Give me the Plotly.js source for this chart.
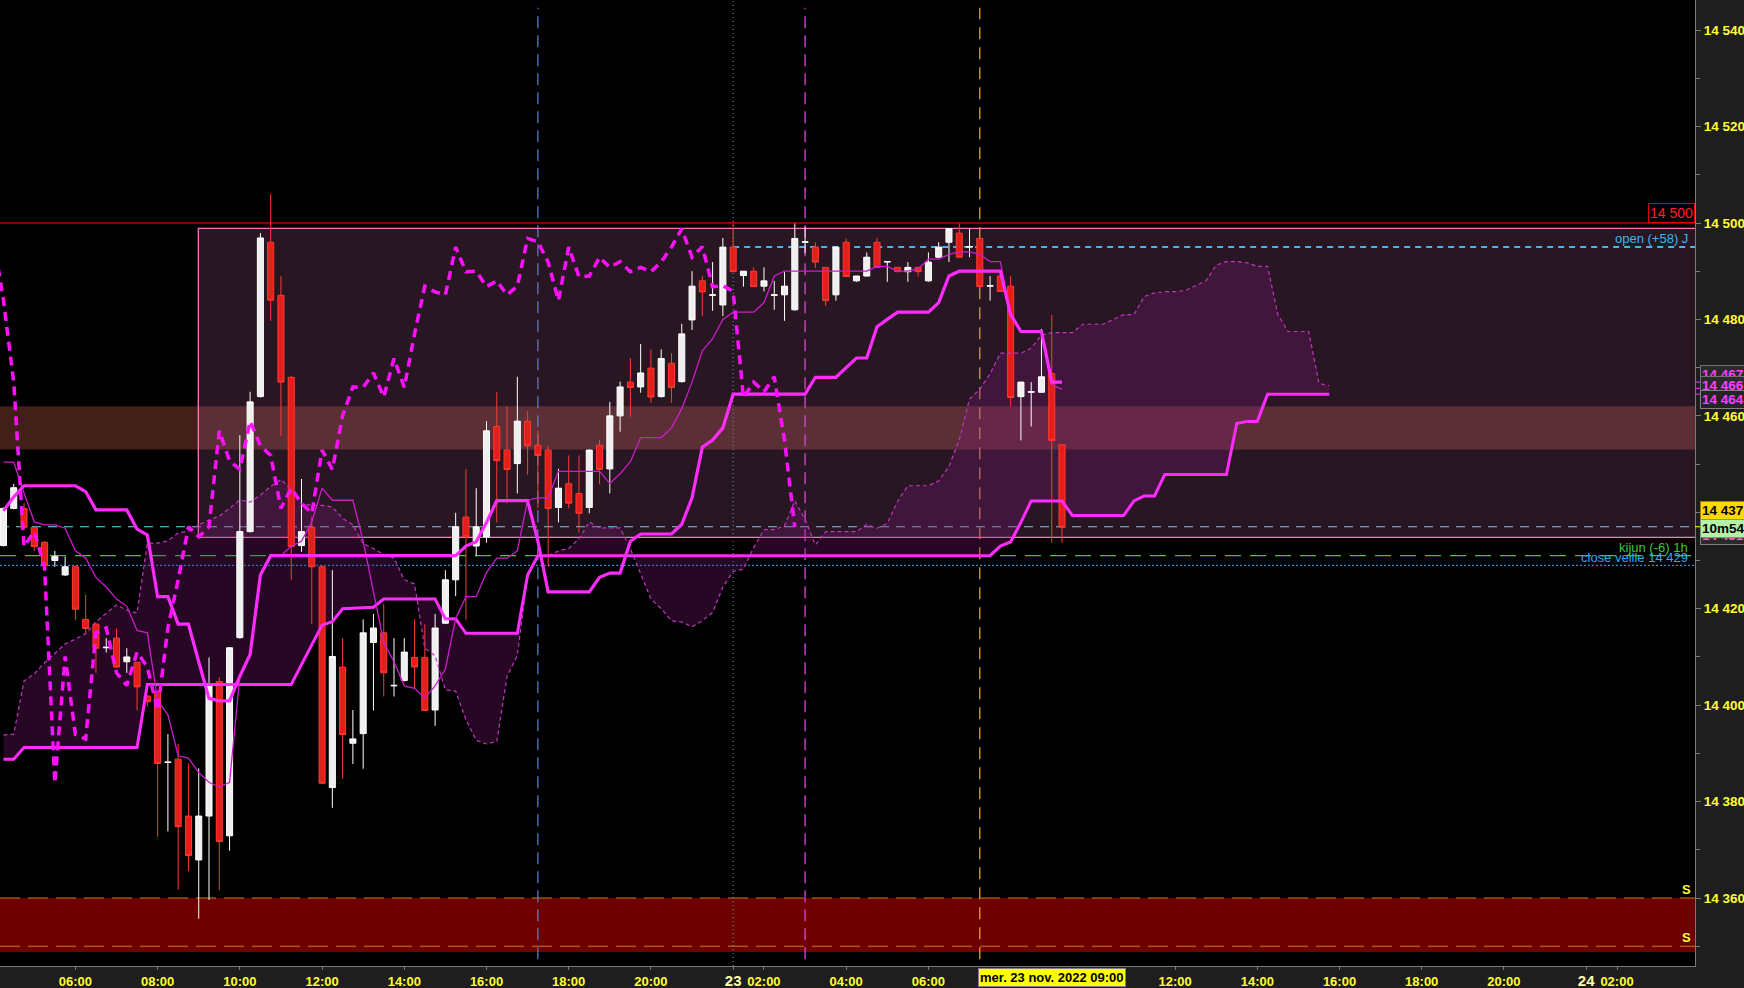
<!DOCTYPE html>
<html><head><meta charset="utf-8">
<script src="https://cdn.plot.ly/plotly-3.0.1.min.js"></script>
<style>html,body{margin:0;padding:0;background:#1e1e1e;overflow:hidden}#chart{width:1744px;height:988px}</style>
</head><body><div id="chart"></div>
<script>
// ---- DATA (15-min candles, index 0 = 22 nov 06:00) ----
const firstIndex = -7;
const open = [14433.1,14440.8,14440.8,14436.9,14433.8,14430.0,14427.0,14428.7,14417.8,14416.8,14411.9,14413.9,14409.0,14408.9,14401.9,14402.9,14388.1,14388.8,14377.0,14367.9,14377.0,14404.9,14372.9,14414.0,14436.0,14464.0,14496.0,14485.0,14468.0,14433.1,14436.9,14428.7,14382.9,14407.9,14392.1,14394.1,14413.0,14415.0,14404.0,14405.1,14409.9,14409.9,14399.0,14417.0,14426.0,14439.0,14433.0,14434.9,14457.8,14452.9,14450.1,14458.9,14453.9,14452.9,14441.0,14445.9,14443.9,14441.0,14453.9,14449.0,14460.0,14467.0,14466.0,14469.9,14464.0,14470.9,14467.1,14479.9,14488.0,14485.0,14483.0,14495.0,14489.1,14490.0,14486.9,14485.0,14485.1,14482.0,14496.0,14495.0,14490.8,14485.1,14496.0,14488.0,14489.0,14496.0,14491.9,14490.8,14489.9,14490.8,14488.0,14492.9,14496.0,14497.9,14495.0,14496.8,14486.9,14489.0,14486.9,14464.0,14464.9,14464.9,14468.8,14454.0];
const high = [14441.0,14445.9,14441.9,14436.9,14434.0,14432.0,14430.8,14429.0,14422.9,14417.0,14413.9,14415.9,14411.8,14409.0,14402.0,14403.0,14394.0,14392.0,14387.9,14386.9,14409.9,14405.8,14412.0,14456.0,14465.0,14497.9,14506.0,14489.0,14468.2,14446.9,14439.1,14429.0,14428.0,14413.9,14399.0,14417.8,14418.9,14421.0,14413.9,14413.9,14417.8,14416.8,14418.9,14428.0,14439.9,14449.0,14445.0,14458.9,14464.9,14462.0,14468.1,14461.0,14456.9,14453.8,14449.0,14451.8,14451.8,14453.0,14455.0,14462.9,14467.1,14472.0,14474.9,14473.8,14473.8,14473.0,14479.1,14490.0,14489.0,14491.9,14496.9,14499.9,14490.0,14490.8,14490.8,14488.0,14489.8,14499.9,14499.2,14496.0,14490.8,14495.0,14496.8,14489.0,14493.9,14496.9,14492.0,14490.8,14491.9,14490.8,14493.9,14496.0,14498.9,14499.9,14498.8,14496.8,14489.0,14489.0,14489.0,14467.0,14467.0,14478.0,14480.9,14454.0];
const low = [14432.9,14440.6,14436.9,14432.0,14428.9,14428.7,14426.8,14417.7,14414.9,14406.7,14410.9,14407.9,14406.7,14398.9,14399.7,14372.7,14373.8,14361.7,14365.6,14355.7,14359.6,14361.7,14369.8,14413.8,14435.8,14463.8,14479.7,14455.9,14426.0,14431.8,14416.8,14383.8,14378.7,14384.7,14387.8,14386.8,14398.9,14401.8,14401.8,14404.9,14403.5,14398.9,14395.7,14416.8,14422.6,14417.7,14430.9,14433.7,14437.9,14441.9,14443.9,14447.8,14440.8,14428.7,14437.9,14440.8,14435.8,14439.8,14445.8,14443.9,14456.7,14459.8,14464.8,14462.7,14463.8,14462.7,14466.9,14477.8,14480.7,14481.8,14480.7,14489.9,14486.8,14486.8,14485.8,14482.0,14479.7,14481.8,14493.7,14490.7,14482.8,14483.9,14488.9,14487.8,14488.9,14490.8,14487.8,14489.9,14487.8,14488.9,14487.8,14492.7,14491.9,14492.9,14492.9,14486.8,14483.9,14485.8,14461.9,14454.9,14457.8,14464.8,14433.7,14433.7];
const close = [14440.8,14445.1,14436.9,14432.9,14428.9,14430.8,14428.7,14419.9,14415.9,14411.8,14412.0,14407.9,14410.0,14403.8,14400.7,14387.9,14388.2,14374.8,14368.8,14377.0,14404.3,14371.7,14411.9,14436.0,14462.9,14496.9,14484.0,14467.0,14432.9,14436.0,14428.7,14383.8,14410.1,14393.9,14393.0,14415.0,14416.0,14406.7,14404.1,14411.0,14407.9,14398.9,14416.0,14426.0,14437.0,14434.9,14437.0,14456.9,14450.7,14448.9,14458.9,14453.8,14451.8,14440.8,14445.0,14441.9,14439.8,14452.9,14448.9,14460.0,14466.0,14465.9,14468.9,14463.9,14471.9,14465.9,14477.0,14486.9,14485.7,14485.1,14495.0,14489.9,14490.0,14486.8,14488.0,14485.1,14486.9,14496.8,14496.1,14491.9,14483.9,14495.0,14488.9,14489.0,14492.9,14490.8,14492.0,14489.9,14490.8,14489.9,14491.9,14495.0,14498.8,14492.9,14495.1,14486.8,14487.0,14485.8,14463.8,14467.0,14465.0,14468.1,14454.9,14436.9];

// Ichimoku lines
const tenkan = [14450.4,14450.4,14444,14438,14437.4,14437.4,14436.7,14432,14430.5,14426.5,14424.5,14422,14420.5,14415.5,14415,14401,14398,14389.5,14389,14386,14384,14383,14384,14406,14410.5,14427,14431,14431,14433,14434,14438,14445,14442.5,14442.5,14442.5,14434,14423.5,14413,14409,14404,14403.5,14401.5,14404,14407.5,14418,14422.5,14422.5,14427.5,14430.5,14430.5,14432,14442.5,14443,14443,14448.5,14448.5,14448.5,14448.5,14448.5,14446,14448,14450.5,14455.5,14455.5,14455.5,14457.5,14461.5,14467,14473.5,14476,14480,14481.5,14481.5,14481.5,14483.5,14489,14490,14490,14490,14490,14490,14490,14490,14490,14490,14491,14491,14490,14490,14490.5,14492.5,14492.5,14493.5,14494,14494,14493.5,14492,14492,14481,14477.5,14477.5,14477.5,14466.5,14465.5];
const kijun = [14440.3,14443.2,14445.5,14445.5,14445.5,14445.5,14445.5,14445.5,14444.3,14440.5,14440.5,14440.5,14440.5,14436.5,14435.3,14422.5,14422.5,14416.8,14416.8,14409,14401.4,14400.9,14400.9,14406,14410.5,14427,14431,14431,14431,14431,14431,14431,14431,14431,14431,14431,14431,14431,14431,14431,14431,14431,14431,14431,14431,14433,14433.9,14437.9,14442.4,14442.4,14442.4,14442.4,14434,14423.5,14423.5,14423.5,14423.5,14423.5,14426.5,14427.4,14427.4,14434,14435.5,14435.5,14435.5,14435.5,14437.5,14443,14453.5,14455,14457.5,14464.5,14464.5,14464.5,14464.5,14464.5,14464.5,14464.5,14464.5,14468,14468,14468,14470,14472,14472,14478.5,14480,14481.5,14481.5,14481.5,14481.5,14483.5,14489,14490,14490,14490,14490,14490,14481,14477.5,14477.5,14477.5,14467,14467];
const senkouA = [14393.8,14394,14405,14406.5,14408.8,14410.7,14412.7,14413.7,14414.8,14417.3,14419.1,14420.8,14419.7,14419.1,14433.6,14433.6,14434.1,14435.7,14436.1,14437.4,14438.4,14439.2,14440.8,14442.6,14442.1,14443.6,
14445.35,14446.8,14444.75,14441.75,14441.45,14441.45,14441.1,14438.75,14437.4,14433.5,
14432.5,14431.25,14430.5,14426,14425.15,14411.75,14410.25,14403.15,14402.9,14397,
14392.7,14391.95,14392.45,14405.95,14410.3,14427,14431,14431,14432,14432.5,
14434.5,14438,14436.75,14436.75,14436.75,14432.5,14427.25,14422,14420,14417.5,
14417.25,14416.25,14417.5,14419.25,14424.5,14427.75,14428.2,14432.7,14436.4,14436.4,
14437.2,14442.4,14438.5,14433.25,14436,14436,14436,14436,14437.5,14436.7,
14437.7,14442.25,14445.5,14445.5,14445.5,14446.5,14449.5,14455,14463.5,14465.5,
14468.75,14473,14473,14473,14474,14476.75,14477.25,14477.25,14477.25,14479,
14479,14479,14480,14481,14481,14484.75,14485.5,14485.75,14485.75,14486,
14487,14488,14491.25,14492,14492,14491.75,14491,14491,14481,14477.5,
14477.5,14477.5,14466.75,14466.25];
const senkouB = [14388.8,14388.8,
14391.2,14391.2,14391.2,14391.2,14391.2,14391.2,14391.2,14391.2,14391.2,14391.2,14391.2,14391.2,
14404.3,14404.3,14404.3,14404.3,14404.3,14404.3,14404.3,14404.3,14404.3,14404.3,14404.3,14404.3,14404.3,14404.3,14404.3,
14408.4,14412.5,14416.6,14417.3,14420,14420.1,14420.2,14420.3,
14422,14422,14422,14422,14422,14422,14417.9,14417.9,
14414.9,14414.9,14414.9,14414.9,14414.9,14414.9,14427,
14431,14431,14431,14431,14431,14431,14431,14431,14431,14431,14431,14431,14431,14431,14431,
14431,14431,14431,14431,14431,14431,14431,14431,14431,14431,14431,14431,14431,14431,14431,
14431,14431,14431,14431,14431,14431,14431,14431,14431,14431,14431,14431,14431,14431,14431,
14433,14433.85,14437.9,14442.35,14442.35,14442.35,14442.35,
14439.35,14439.35,14439.35,14439.35,14439.35,14439.35,14442.35,14443.4,14443.4,
14447.85,14447.85,14447.85,14447.85,14447.85,14447.85,14447.85,14458.4,14458.85,14458.85,
14464.5,14464.5,14464.5,14464.5,14464.5,14464.5,14464.5];
const chikouShift = 26;

// time axis labels (candle index -> label)
const tickIndex = [0,8,16,24,32,40,48,56,64,67,75,83,107,115,123,131,139,147,150];
const tickLabels = ['06:00','08:00','10:00','12:00','14:00','16:00','18:00','20:00','<span style="font-size:15px;color:#ffffb0">23</span>','02:00','04:00','06:00','12:00','14:00','16:00','18:00','20:00','<span style="font-size:15px;color:#ffffb0">24</span>','02:00'];

// levels & zones
const resistanceLevel = 14500;
const rangeBox = {startIndex: 12, low: 14434.8, high: 14498.9};
const zoneBand = [14453, 14462];
const supportZone = [14348.8, 14360];
const supportLines = [14360, 14350];
const lastPrice = 14437;
const kijun1h = 14431;
const closeVeille = 14429;
const openLevel = 14495;
const openStartIndex = 64;
const verticalMarks = [45, 64, 71, 88];

// ---- CHART ----
const F = 'Liberation Sans, Arial, sans-serif';
const xs = open.map((_, i) => firstIndex + i);
const xCloud = senkouA.map((_, i) => firstIndex + i);
const xChikou = xs.map(k => k - chikouShift);
const X0 = -7.337, X1 = 157.59;
const Y0 = 14345.9, Y1 = 14546.25;

const traces = [
  // cloud fill on the base subplot (below the candles)
  {x: xCloud, y: senkouB, xaxis: 'x', yaxis: 'y', mode: 'lines', line: {width: 0, color: 'rgba(0,0,0,0)'}, hoverinfo: 'skip'},
  {x: xCloud, y: senkouA, xaxis: 'x', yaxis: 'y', mode: 'lines', line: {width: 0, color: 'rgba(0,0,0,0)'}, fill: 'tonexty', fillcolor: 'rgba(125,22,118,0.30)', hoverinfo: 'skip'},
  // candles and lines on the overlay subplot
  {type: 'candlestick', xaxis: 'x2', yaxis: 'y2', x: xs, open: open, high: high, low: low, close: close, whiskerwidth: 0,
   increasing: {line: {color: '#ffffff', width: 1}, fillcolor: '#efefef'},
   decreasing: {line: {color: '#ff3a30', width: 1}, fillcolor: '#e41e1a'}, hoverinfo: 'skip'},
  {x: xCloud, y: senkouA, xaxis: 'x2', yaxis: 'y2', mode: 'lines', line: {color: '#c233c2', width: 1.2, dash: '4px,3px'}},
  {x: xCloud, y: senkouB, xaxis: 'x2', yaxis: 'y2', mode: 'lines', line: {color: '#ff2cff', width: 3}},
  {x: xs, y: tenkan, xaxis: 'x2', yaxis: 'y2', mode: 'lines', line: {color: '#cc1ccc', width: 1.3}},
  {x: xs, y: kijun, xaxis: 'x2', yaxis: 'y2', mode: 'lines', line: {color: '#ff2cff', width: 3.2}},
  {x: xChikou, y: close, xaxis: 'x2', yaxis: 'y2', mode: 'lines', line: {color: '#ff10ff', width: 3.5, dash: '9px,6px'}}
];

const shapes = [
  {type:'rect', xref:'paper', x0:0, x1:1, yref:'y', y0:supportZone[0], y1:supportZone[1], fillcolor:'#6e0000', line:{width:0}, layer:'below'},
  {type:'line', xref:'paper', x0:0, x1:1, yref:'y', y0:supportLines[0], y1:supportLines[0], line:{color:'#c8801e', width:1, dash:'20px,8px'}, layer:'below'},
  {type:'line', xref:'paper', x0:0, x1:1, yref:'y', y0:supportLines[1], y1:supportLines[1], line:{color:'#c8801e', width:1, dash:'20px,8px'}, layer:'below'},
  {type:'rect', xref:'x', x0:rangeBox.startIndex - 0.04, x1:X1 + 2, yref:'y', y0:rangeBox.low, y1:rangeBox.high, fillcolor:'rgba(190,105,160,0.21)', line:{color:'#ff7ab8', width:1.3}, layer:'below'},
  {type:'rect', xref:'paper', x0:0, x1:1, yref:'y', y0:zoneBand[0], y1:zoneBand[1], fillcolor:'rgba(189,91,74,0.35)', line:{width:0}, layer:'below'},
  {type:'line', xref:'paper', x0:0, x1:1, yref:'y', y0:resistanceLevel, y1:resistanceLevel, line:{color:'#8a0000', width:2}, layer:'below'},
  {type:'line', xref:'paper', x0:0, x1:1, yref:'y', y0:lastPrice, y1:lastPrice, line:{color:'#70e0f0', width:1, dash:'9px,7px'}, layer:'below'},
  {type:'line', xref:'paper', x0:0, x1:1, yref:'y', y0:kijun1h, y1:kijun1h, line:{color:'#3cc83c', width:1.3, dash:'16px,9px'}, layer:'below'},
  {type:'line', xref:'paper', x0:0, x1:1, yref:'y', y0:closeVeille, y1:closeVeille, line:{color:'#30b0ff', width:1, dash:'2px,2px'}, layer:'below'},
  {type:'line', xref:'x', x0:openStartIndex, x1:X1 + 2, yref:'y', y0:openLevel, y1:openLevel, line:{color:'#40b8f0', width:2, dash:'6px,5px'}, layer:'below'},
  {type:'line', xref:'x', x0:verticalMarks[0], x1:verticalMarks[0], yref:'paper', y0:0.007, y1:0.992, line:{color:'#5a84d8', width:1.2, dash:'12px,7px'}, layer:'below'},
  {type:'line', xref:'x', x0:verticalMarks[1], x1:verticalMarks[1], yref:'paper', y0:0, y1:1, line:{color:'#4aa8c8', width:1, dash:'1px,3px'}, layer:'below'},
  {type:'line', xref:'x', x0:verticalMarks[2], x1:verticalMarks[2], yref:'paper', y0:0.007, y1:0.992, line:{color:'#e040e0', width:1.3, dash:'12px,7px'}, layer:'below'},
  {type:'line', xref:'x', x0:verticalMarks[3], x1:verticalMarks[3], yref:'paper', y0:0.007, y1:0.992, line:{color:'#f0b040', width:1.2, dash:'12px,8px'}, layer:'below'},
  {type:'line', xref:'paper', x0:1, x1:1.003, yref:'y', y0:14467, y1:14467, line:{color:'#ff30ff', width:1}},
  {type:'line', xref:'paper', x0:1, x1:1.003, yref:'y', y0:14465.7, y1:14465.7, line:{color:'#ff30ff', width:1}},
  {type:'line', xref:'paper', x0:1, x1:1.003, yref:'y', y0:14464.5, y1:14464.5, line:{color:'#ff30ff', width:1}},
  {type:'line', xref:'paper', x0:1, x1:1.003, yref:'y', y0:lastPrice, y1:lastPrice, line:{color:'#ffff00', width:1}}
];

function tag(text, y, bg, fg, border) {
  return {xref:'paper', x:1.0032, xanchor:'left', yref:'y', y:y, yanchor:'middle', text:text, showarrow:false,
    font:{family:F, size:13.5, color:fg, weight:'bold'}, bgcolor:bg, bordercolor:border, borderwidth:1, borderpad:1};
}
function note(text, y, color, x) {
  return {xref:'paper', x:x, xanchor:'right', yref:'y', y:y, yanchor:'middle', text:text, showarrow:false,
    font:{family:F, size:13, color:color}};
}

const annotations = [
  {xref:'paper', x:1, xanchor:'right', yref:'y', y:resistanceLevel, yanchor:'bottom', text:'14 500', showarrow:false,
   font:{family:F, size:14, color:'#ff2020'}, bgcolor:'#000000', bordercolor:'#e00000', borderwidth:1, borderpad:1},
  note('open (+58) J', 14496.8, '#3cb4f0', 0.997),
  note('kijun (-6) 1h', 14432.7, '#3cc83c', 0.997),
  note('close veille 14 429', 14430.6, '#30a8f0', 0.997),
  {xref:'paper', x:0.9947, xanchor:'center', yref:'y', y:14361.8, yanchor:'middle', text:'S', showarrow:false, font:{family:F, size:13, color:'#ffff40', weight:'bold'}},
  {xref:'paper', x:0.9947, xanchor:'center', yref:'y', y:14351.8, yanchor:'middle', text:'S', showarrow:false, font:{family:F, size:13, color:'#ffff40', weight:'bold'}},
  tag('14 431', 14435.2, '#2a2a2a', '#ff60c8', '#808080'),
  tag('14 467', 14468.6, '#2a2a2a', '#ff40ff', '#707070'),
  tag('14 466', 14466.3, '#2a2a2a', '#ff40ff', '#707070'),
  tag('14 464', 14463.3, '#242424', '#ff40ff', '#808080'),
  tag('14 437', 14440.3, '#ffd800', '#000000', '#a08000'),
  tag('10m54s', 14436.7, '#b4f0a8', '#000000', '#70a070'),
  {xref:'x', x:87.8, xanchor:'left', yref:'paper', y:-0.0124, yanchor:'middle', text:'mer. 23 nov. 2022 09:00', showarrow:false,
   font:{family:F, size:13, color:'#000000', weight:'bold'}, bgcolor:'#ffff00', bordercolor:'#808080', borderwidth:1, borderpad:1}
];

const layout = {
  width: 1744, height: 988,
  margin: {l: 0, r: 49, t: 0, b: 22, pad: 0},
  paper_bgcolor: '#1e1e1e', plot_bgcolor: '#000000',
  showlegend: false, separators: ', ', boxgap: 0.16,
  xaxis: {range: [X0, X1], tickmode: 'array', tickvals: tickIndex, ticktext: tickLabels,
    showgrid: false, zeroline: false, showline: true, linecolor: '#7a7a7a', linewidth: 1,
    ticks: 'outside', ticklen: 3, tickcolor: '#7a7a7a',
    tickfont: {family: F, size: 13, color: '#ffff33', weight: 'bold'},
    rangeslider: {visible: false}, fixedrange: true},
  yaxis: {side: 'right', range: [Y0, Y1], tickmode: 'linear', tick0: 14360, dtick: 20, tickformat: ',.0f',
    showgrid: false, zeroline: false, showline: true, linecolor: '#7a7a7a', linewidth: 1,
    ticks: 'outside', ticklen: 5, tickcolor: '#7a7a7a',
    minor: {dtick: 10, tick0: 14360, ticks: 'outside', ticklen: 4, tickcolor: '#7a7a7a', showgrid: false},
    tickfont: {family: F, size: 13.5, color: '#ffff33', weight: 'bold'}, fixedrange: true},
  xaxis2: {overlaying: 'x', anchor: 'y2', range: [X0, X1], visible: false, showgrid: false, zeroline: false,
    rangeslider: {visible: false}, fixedrange: true},
  yaxis2: {overlaying: 'y', anchor: 'x2', side: 'right', range: [Y0, Y1], visible: false, showgrid: false, zeroline: false, fixedrange: true},
  shapes: shapes,
  annotations: annotations
};

Plotly.newPlot('chart', traces, layout, {staticPlot: true, displayModeBar: false});
</script>
</body></html>
